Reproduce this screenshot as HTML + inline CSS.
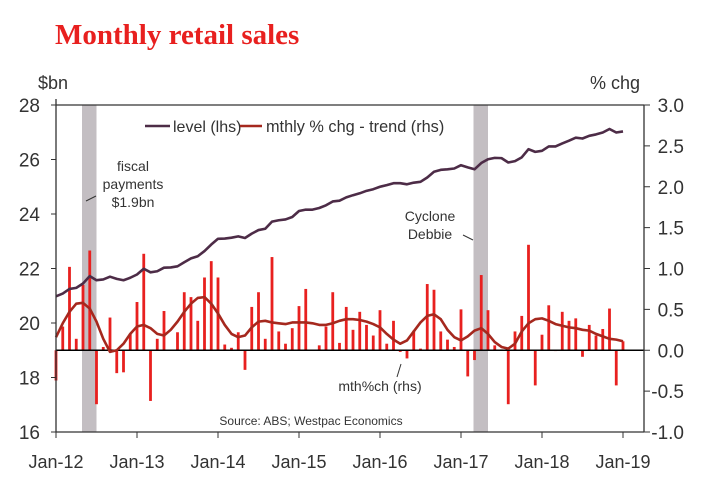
<!DOCTYPE html>
<html><head><meta charset="utf-8"><style>
body{margin:0;background:#fff;width:718px;height:486px;overflow:hidden;font-family:"Liberation Sans",sans-serif;}
svg text{font-family:"Liberation Sans",sans-serif;fill:#333;}
</style></head><body>
<svg id="chart" width="718" height="486">
<text x="55" y="44" style="font-family:'Liberation Serif',serif;font-weight:bold;font-size:29px;fill:#e8201f">Monthly retail sales</text>
<text x="38" y="89" font-size="18">$bn</text>
<text x="640" y="89" font-size="18" text-anchor="end">% chg</text>
</svg>
<script>
const startYear = 2012;
const xTickLabels = ["Jan-12","Jan-13","Jan-14","Jan-15","Jan-16","Jan-17","Jan-18","Jan-19"];
const leftTicks = [16,18,20,22,24,26,28];
const rightTicks = [-1.0,-0.5,0.0,0.5,1.0,1.5,2.0,2.5,3.0];
const shadedMonths = [[4,6],[62,64]];
const levelValues = [20.98,21.08,21.25,21.29,21.45,21.72,21.57,21.6,21.7,21.62,21.57,21.66,21.78,21.99,21.86,21.9,22.03,22.04,22.08,22.23,22.37,22.45,22.64,22.88,23.09,23.1,23.13,23.18,23.12,23.28,23.41,23.46,23.72,23.77,23.8,23.89,24.11,24.16,24.16,24.22,24.32,24.46,24.49,24.61,24.69,24.76,24.85,24.91,25.0,25.06,25.13,25.13,25.09,25.15,25.18,25.34,25.55,25.62,25.64,25.67,25.79,25.71,25.64,25.87,26.01,26.06,26.05,25.89,25.94,26.08,26.38,26.28,26.32,26.48,26.48,26.59,26.69,26.8,26.77,26.87,26.92,26.99,27.12,26.99,27.03];
const monthlyChange = [-0.37,0.29,1.02,0.14,0.8,1.22,-0.66,0.04,0.4,-0.28,-0.27,0.2,0.59,1.18,-0.62,0.14,0.48,0,0.22,0.71,0.65,0.36,0.89,1.09,0.89,0.07,0.03,0.22,-0.24,0.53,0.71,0.14,1.14,0.23,0.08,0.27,0.54,0.75,0,0.06,0.29,0.71,0.09,0.53,0.25,0.47,0.31,0.18,0.49,0.08,0.36,-0.02,-0.1,0.24,0.02,0.81,0.74,0.23,0.13,0.04,0.5,-0.32,-0.12,0.92,0.49,0.06,0.01,-0.66,0.23,0.42,1.29,-0.43,0.19,0.55,-0.01,0.47,0.36,0.39,-0.08,0.31,0.18,0.26,0.51,-0.43,0.11];
const trendValues = [0.16,0.33,0.47,0.57,0.58,0.51,0.35,0.14,-0.02,0,0.08,0.2,0.29,0.31,0.27,0.2,0.18,0.25,0.35,0.47,0.57,0.64,0.65,0.57,0.45,0.31,0.2,0.16,0.18,0.28,0.35,0.36,0.34,0.33,0.32,0.34,0.34,0.34,0.33,0.31,0.31,0.33,0.36,0.38,0.38,0.37,0.35,0.32,0.28,0.2,0.13,0.08,0.12,0.23,0.34,0.42,0.44,0.38,0.25,0.16,0.12,0.17,0.24,0.27,0.2,0.1,0.04,0.02,0.08,0.23,0.33,0.38,0.39,0.36,0.32,0.3,0.28,0.27,0.25,0.24,0.2,0.17,0.14,0.13,0.11];

const L=56,R=644,T=105,B=432;
const x = m => L + m*81/12;
const yL = v => B - (v-16)*(B-T)/12;
const yR = v => B - (v+1)*(B-T)/4;
const svg=document.getElementById('chart');
const NS='http://www.w3.org/2000/svg';
function mk(tag,attrs,parent){const e=document.createElementNS(NS,tag);for(const k in attrs)e.setAttribute(k,attrs[k]);(parent||svg).appendChild(e);return e;}

shadedMonths.forEach((s,i)=>{
  const r=mk('rect',{x:x(s[0])-1,y:T,width:x(s[1])-x(s[0])+1,height:B-T,fill:'#c3bec2'});
  
  
});
monthlyChange.forEach((v,i)=>{
  const y0=yR(0),y1=yR(v);
  const r=mk('rect',{x:x(i)-1.4,y:Math.min(y0,y1),width:2.8,height:Math.abs(y1-y0),fill:'#e8201f'});
  
  
});
const zl=mk('line',{x1:L,x2:R,y1:yR(0),y2:yR(0),stroke:'#000','stroke-width':1.5});


const tp=mk('path',{d:trendValues.map((v,i)=>(i?'L':'M')+x(i)+','+yR(v)).join(''),fill:'none',stroke:'#a5281e','stroke-width':2.6,'stroke-linejoin':'round'});


const lp=mk('path',{d:levelValues.map((v,i)=>(i?'L':'M')+x(i)+','+yL(v)).join(''),fill:'none',stroke:'#4d2c47','stroke-width':2.6,'stroke-linejoin':'round'});



mk('path',{d:`M${L},${T}L${R},${T}M${L},${T-6}L${L},${B}L${R},${B}M${R},${T}L${R},${B}`,fill:'none',stroke:'#333','stroke-width':1.3});
leftTicks.forEach(v=>{
  mk('line',{x1:L-5,x2:L,y1:yL(v),y2:yL(v),stroke:'#333'});
  const t=mk('text',{x:L-16,y:yL(v)+7,'font-size':19,'text-anchor':'end'});t.textContent=v;
  
  
});
rightTicks.forEach(v=>{
  mk('line',{x1:R,x2:R+6,y1:yR(v),y2:yR(v),stroke:'#333'});
  const t=mk('text',{x:R+40,y:yR(v)+7,'font-size':19,'text-anchor':'end'});t.textContent=v.toFixed(1);
  
  
});
xTickLabels.forEach((s,i)=>{
  mk('line',{x1:x(i*12),x2:x(i*12),y1:B,y2:B+6,stroke:'#333'});
  const t=mk('text',{x:x(i*12),y:468,'font-size':18,'text-anchor':'middle'});t.textContent=s;
  
  
});
</script>
<svg width="718" height="486" style="position:absolute;left:0;top:0">
<g>
<line x1="145" x2="170" y1="126" y2="126" stroke="#4d2c47" stroke-width="2.6"/>
<text x="173" y="132" font-size="16">level (lhs)</text>
<line x1="240" x2="262" y1="126" y2="126" stroke="#a5281e" stroke-width="2.6"/>
<text x="266" y="132" font-size="16.3">mthly % chg - trend (rhs)</text>
</g>
<text x="133" y="171" font-size="14" text-anchor="middle"><tspan x="133">fiscal</tspan><tspan x="133" dy="18">payments</tspan><tspan x="133" dy="18">$1.9bn</tspan></text>
<line x1="86" y1="201" x2="96" y2="196" stroke="#333"/>
<text x="430" y="221" font-size="14" text-anchor="middle"><tspan x="430">Cyclone</tspan><tspan x="430" dy="18">Debbie</tspan></text>
<line x1="463" y1="235" x2="473" y2="240" stroke="#333"/>
<text x="380" y="391" font-size="14" text-anchor="middle">mth%ch (rhs)</text>
<line x1="397" y1="377" x2="401" y2="364" stroke="#333"/>
<text x="311" y="425" font-size="12" text-anchor="middle">Source: ABS; Westpac Economics</text>
</svg>
</body></html>
